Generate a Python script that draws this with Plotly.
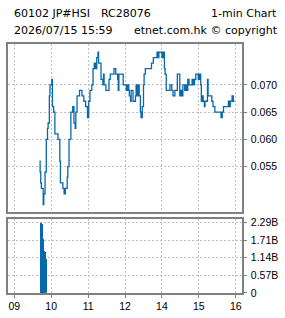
import plotly.graph_objects as go

# ---- data ----
times = ["09:41","09:42","09:43","09:44","09:47","09:48","09:50","09:52","09:54","09:55","09:57","09:58",
         "10:01","10:02","10:04","10:06","10:09","10:11","10:14","10:15","10:19","10:21","10:23","10:26","10:27",
         "10:29","10:32","10:34","10:35","10:37","10:39","10:40","10:42","10:43","10:46","10:48","10:50","10:53",
         "10:56","10:59","11:01","11:03","11:06","11:08","11:10","11:12","11:14","11:16","11:17","11:19","11:21",
         "11:24","11:25","11:26","11:29","11:32","11:34","11:36","11:40","11:42","11:45","11:48","11:49","11:50",
         "11:55","11:57","11:59",
         "13:02","13:04","13:06","13:07","13:09","13:10","13:13","13:15","13:17","13:18","13:20","13:22","13:23",
         "13:25","13:26","13:28","13:30","13:31","13:33","13:34","13:36","13:38","13:39","13:43","13:44","13:46",
         "13:49","13:52","13:54","13:55","13:59","14:00","14:02","14:04","14:05","14:07","14:10","14:13","14:16",
         "14:18","14:20","14:21","14:25","14:28","14:29","14:31","14:33","14:34","14:37","14:39","14:40","14:42",
         "14:44","14:46","14:48","14:49","14:51","14:53","14:55","14:57","14:59","15:01","15:02","15:03","15:04",
         "15:06","15:07","15:09","15:10","15:12","15:13","15:14","15:15","15:18","15:20","15:21","15:23","15:25",
         "15:26","15:28","15:32","15:35","15:36","15:38","15:40","15:43","15:46","15:48","15:49","15:51","15:52",
         "15:54","15:56","15:58"]
prices = [0.056,0.054,0.052,0.051,0.048,0.050,0.054,0.060,0.062,0.063,0.068,0.070,
          0.071,0.066,0.065,0.061,0.061,0.060,0.056,0.052,0.051,0.050,0.051,0.053,0.055,
          0.060,0.065,0.065,0.066,0.063,0.062,0.065,0.068,0.068,0.069,0.069,0.068,0.067,
          0.066,0.064,0.067,0.069,0.070,0.073,0.074,0.073,0.075,0.076,0.074,0.074,0.071,
          0.070,0.072,0.070,0.069,0.069,0.071,0.072,0.072,0.073,0.072,0.071,0.069,0.072,
          0.072,0.070,0.070,
          0.069,0.070,0.069,0.068,0.067,0.069,0.067,0.067,0.068,0.070,0.068,0.070,0.068,
          0.065,0.064,0.066,0.070,0.072,0.073,0.073,0.073,0.073,0.073,0.074,0.074,0.075,
          0.075,0.076,0.075,0.076,0.076,0.075,0.076,0.073,0.072,0.069,0.069,0.070,0.069,
          0.068,0.068,0.069,0.072,0.072,0.068,0.069,0.068,0.070,0.069,0.070,0.069,0.071,
          0.070,0.070,0.070,0.071,0.070,0.071,0.072,0.072,0.071,0.072,0.072,0.070,0.067,
          0.068,0.067,0.066,0.067,0.067,0.067,0.071,0.068,0.068,0.068,0.067,0.066,0.066,
          0.065,0.065,0.065,0.065,0.064,0.065,0.066,0.066,0.066,0.067,0.066,0.067,0.067,
          0.068,0.067,0.067]

vol_times = ["09:42","09:43","09:44","09:45","09:46","09:47","09:48","09:49","09:50","09:51"]
volumes_b = [0.57,2.29,2.26,1.79,1.76,1.33,1.36,1.35,1.14,1.12]

x_tick_labels = ["09","10","11","12","14","15","16"]
x_tick_times = ["09:00","10:00","11:00","12:00","14:00","15:00","16:00"]
price_ticks = [0.055,0.060,0.065,0.070]
vol_max = 2.29
vol_tick_labels = ["0","0.57B","1.14B","1.71B","2.29B"]

# ---- helpers ----
def tmin(s):
    h, m = map(int, s.split(":"))
    v = h * 60 + m - 540
    if h >= 13:
        v -= 60
    return v

px_ = [tmin(t) for t in times]
vx = [tmin(t) for t in vol_times]
xt = [tmin(t) for t in x_tick_times]
vol_ticks = [vol_max * i / 4 for i in range(5)]

W, H = 285, 318
L, R = 8, 242
main_top, main_bot = 42, 215.5
vol_top, vol_bot = 222, 298.3
BLUE = "#0868ac"
FRAME = "#808080"
GRID = "#c0c0c0"
FONT = "DejaVu Sans"
TICKFONT = dict(family="Liberation Sans", size=10.5, color="#000000")

# price range derived from pixel layout of the reference
p_per_px = 0.001 / 5.6
y_top_val = 0.065 + (112.3 - main_top) * p_per_px
y_bot_val = 0.065 - (main_bot - 112.3) * p_per_px

fig = go.Figure()
fig.add_trace(go.Scatter(x=px_, y=prices, mode="lines", line=dict(color=BLUE, width=1.3, shape="hv"),
                         xaxis="x", yaxis="y", showlegend=False))
fig.add_trace(go.Bar(x=vx, y=volumes_b, width=1.15, offset=0, marker=dict(color=BLUE, line=dict(width=0)),
                     xaxis="x2", yaxis="y2", showlegend=False))

xr = [-10.2, 370.1]
common_x = dict(range=xr, tickvals=xt, showgrid=True, gridcolor=GRID, griddash="2px,2px", gridwidth=1,
                showline=True, linecolor=FRAME, linewidth=1.5, mirror=True, zeroline=False,
                domain=[L / W, R / W], fixedrange=True)
common_y = dict(side="right", showgrid=True, gridcolor=GRID, griddash="2px,2px", gridwidth=1,
                showline=True, linecolor=FRAME, linewidth=1.5, mirror=True, zeroline=False,
                ticks="outside", ticklen=3, tickcolor=FRAME, tickfont=TICKFONT, ticklabelstandoff=2)

fig.update_layout(
    width=W, height=H, margin=dict(l=0, r=0, t=0, b=0),
    paper_bgcolor="white", plot_bgcolor="white", bargap=0,
    xaxis=dict(**common_x, anchor="y", showticklabels=False, ticktext=x_tick_labels),
    xaxis2=dict(**common_x, anchor="y2", showticklabels=True, ticktext=x_tick_labels,
                ticks="outside", ticklen=3, tickcolor=FRAME, tickfont=TICKFONT),
    yaxis=dict(**common_y, anchor="x", domain=[1 - main_bot / H, 1 - main_top / H],
               range=[y_bot_val, y_top_val], tickvals=price_ticks,
               ticktext=[f"{v:.3f}" for v in price_ticks]),
    yaxis2=dict(**common_y, anchor="x2", domain=[1 - vol_bot / H, 1 - vol_top / H],
                range=[0, vol_max * (vol_bot - vol_top + 4) / (vol_bot - vol_top)],
                tickvals=vol_ticks, ticktext=vol_tick_labels),
)

def txt(s, x, y, anchor="left"):
    fig.add_annotation(text=s, x=x / W, y=1 - y / H, xref="paper", yref="paper", showarrow=False,
                       xanchor=anchor, yanchor="middle", font=dict(family=FONT, size=11, color="#000000"))

txt("60102 JP#HSI", 11.5, 11)
txt("RC28076", 99, 11)
txt("1-min Chart", 279, 11, "right")
txt("2026/07/15 15:59", 11.5, 28)
txt("etnet.com.hk \u00a9 copyright", 280, 28, "right")

fig.write_html("out.html")
